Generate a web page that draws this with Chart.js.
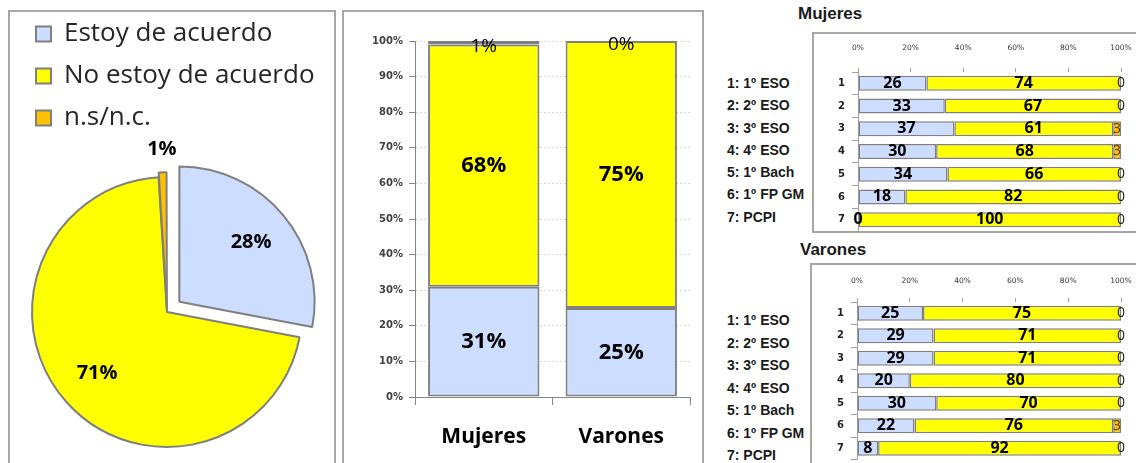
<!DOCTYPE html>
<html>
<head>
<meta charset="utf-8">
<script src="https://cdn.jsdelivr.net/npm/chart.js@4.4.1/dist/chart.umd.min.js"></script>
<style>
  html, body { margin: 0; padding: 0; background: #fff; }
  body { width: 1136px; height: 463px; overflow: hidden; position: relative; }
  .frame { position: absolute; box-sizing: border-box; border: 2px solid #A6A6A6; }
  canvas { position: absolute; }
  .title { position: absolute; font: bold 17px 'Liberation Sans', Arial, sans-serif; color: #1a1a1a; line-height: 20px; white-space: nowrap; }
  .list { position: absolute; font: bold 14px 'Liberation Sans', Arial, sans-serif; color: #1a1a1a; white-space: nowrap; }
</style>
</head>
<body>
<div class="frame" style="left:8px;top:10px;width:328px;height:470px;"></div>
<div class="frame" style="left:342px;top:10px;width:362px;height:470px;"></div>
<div class="title" id="tMuj" style="left:798px;top:4px;"></div>
<div class="frame" style="left:812px;top:32px;width:340px;height:201px;"></div>
<div class="list" id="lMuj" style="left:727px;top:72px;line-height:22.3px;"></div>
<div class="title" id="tVar" style="left:800px;top:240px;"></div>
<div class="frame" style="left:810px;top:263px;width:340px;height:220px;"></div>
<div class="list" id="lVar" style="left:727px;top:309px;line-height:22.5px;"></div>

<canvas id="pie" width="314" height="478" style="left:20px;top:5px;"></canvas>
<canvas id="col" width="358" height="451" style="left:344px;top:12px;"></canvas>
<canvas id="muj" width="322" height="197" style="left:814px;top:36px;"></canvas>
<canvas id="var" width="324" height="198" style="left:812px;top:265px;"></canvas>

<script>
// ---------- DATA ----------
const answerLabels = ['Estoy de acuerdo', 'No estoy de acuerdo', 'n.s/n.c.'];
const pieValues = [28, 71, 1];

const genderLabels = ['Mujeres', 'Varones'];
const colAcuerdo = [31, 25];
const colNoAcuerdo = [68, 75];
const colNsnc = [1, 0];

const levelTicks = ['1', '2', '3', '4', '5', '6', '7'];
const levelNames = ['1: 1º ESO', '2: 2º ESO', '3: 3º ESO', '4: 4º ESO', '5: 1º Bach', '6: 1º FP GM', '7: PCPI'];
const pctTicks = [0, 20, 40, 60, 80, 100];

const mujAcuerdo = [26, 33, 37, 30, 34, 18, 0];
const mujNoAcuerdo = [74, 67, 61, 68, 66, 82, 100];
const mujNsnc = [0, 0, 3, 3, 0, 0, 0];

const varAcuerdo = [25, 29, 29, 20, 30, 22, 8];
const varNoAcuerdo = [75, 71, 71, 80, 70, 76, 92];
const varNsnc = [0, 0, 0, 0, 0, 3, 0];

// ---------- STYLE ----------
const BLUE = '#CCDDFF', YELLOW = '#FFFF00', ORANGE = '#FFC000', EDGE = '#7F7F7F';
const COLORS = [BLUE, YELLOW, ORANGE];
const OS = "'Open Sans'";

document.getElementById('tMuj').textContent = genderLabels[0];
document.getElementById('tVar').textContent = genderLabels[1];
document.getElementById('lMuj').innerHTML = levelNames.map(s => '<div>' + s + '</div>').join('');
document.getElementById('lVar').innerHTML = levelNames.map(s => '<div>' + s + '</div>').join('');

function pieLabelPlugin() {
  return {
    id: 'pieLabels',
    afterDatasetsDraw(chart) {
      const ctx = chart.ctx;
      const ds = chart.data.datasets[0];
      chart.getDatasetMeta(0).data.forEach((arc, i) => {
        const p = arc.getProps(['x', 'y', 'startAngle', 'endAngle', 'outerRadius'], true);
        const mid = (p.startAngle + p.endAngle) / 2;
        const shift = (arc.options.offset || 0) / 4; // Chart.js translates arcs by offset/4
        const v = ds.data[i];
        const d = v < 5 ? p.outerRadius + 25 : p.outerRadius * 0.69;
        const x = p.x + Math.cos(mid) * (shift + d);
        const y = p.y + Math.sin(mid) * (shift + d);
        ctx.save();
        ctx.font = "bold 20px " + OS;
        ctx.fillStyle = '#000';
        ctx.textAlign = 'center';
        ctx.textBaseline = 'middle';
        ctx.fillText(v + '%', x, y);
        ctx.restore();
      });
    }
  };
}

function segLabelPlugin(id, spec) {
  return {
    id,
    afterDatasetsDraw(chart) {
      const ctx = chart.ctx;
      chart.data.datasets.forEach((ds, di) => {
        chart.getDatasetMeta(di).data.forEach((el, i) => {
          const s = spec(di, i, ds);
          if (!s) return;
          const c = el.getCenterPoint();
          ctx.save();
          ctx.font = s.font;
          ctx.fillStyle = s.color;
          ctx.textAlign = 'center';
          ctx.textBaseline = 'middle';
          ctx.fillText(s.text, c.x + (s.dx || 0), c.y + (s.dy || 0));
          ctx.restore();
        });
      });
    }
  };
}

function normalize(a, b, c) {
  const t = a.map((v, i) => a[i] + b[i] + c[i]);
  return [a, b, c].map(arr => arr.map((v, i) => v / t[i] * 100));
}

function hbarChart(canvasId, a, b, c, padR, padB, yWidth, xHeight, xPad) {
  const norm = normalize(a, b, c);
  const raws = [a, b, c];
  return new Chart(document.getElementById(canvasId), {
    type: 'bar',
    data: {
      labels: levelTicks,
      datasets: answerLabels.map((lab, k) => ({
        label: lab, data: norm[k], rawValues: raws[k],
        backgroundColor: COLORS[k], borderColor: EDGE, borderWidth: 1.5, borderSkipped: false,
        barPercentage: 0.66, categoryPercentage: 1
      }))
    },
    options: {
      indexAxis: 'y', responsive: false, animation: false, devicePixelRatio: 1,
      layout: { padding: { top: 0, right: padR, bottom: padB, left: 0 } },
      plugins: { legend: { display: false }, tooltip: { enabled: false } },
      scales: {
        x: {
          position: 'top', stacked: true, min: 0, max: 100,
          afterBuildTicks(s) { s.ticks = pctTicks.map(v => ({ value: v })); },
          ticks: { callback: v => v + '%', font: { family: "'DejaVu Sans'", size: 7.5 }, color: '#333', padding: xPad, maxRotation: 0 },
          grid: { drawOnChartArea: false, drawTicks: true, tickLength: 4, tickColor: '#A0A0A0', color: '#A0A0A0' },
          border: { display: false },
          afterFit(s) { s.height = xHeight; s.paddingLeft = 0; s.paddingRight = 0; }
        },
        y: {
          stacked: true,
          ticks: { font: { family: "'DejaVu Sans'", size: 10, weight: 'bold' }, color: '#222', padding: 7 },
          grid: { drawOnChartArea: false, drawTicks: true, tickLength: 6, tickColor: '#A0A0A0', color: '#A0A0A0', offset: true },
          border: { display: true, color: '#A0A0A0' },
          afterFit(s) { s.width = yWidth; s.paddingTop = 0; s.paddingBottom = 0; }
        }
      }
    },
    plugins: [segLabelPlugin('hLabels' + canvasId, (di, i, ds) => {
      const v = ds.rawValues[i];
      if (di < 2) return { text: String(v), font: "bold 16px " + OS, color: '#000' };
      return { text: String(v), font: "14px " + OS, color: v ? '#5a3a00' : '#222' };
    })]
  });
}

const fontsReady = Promise.all([
  document.fonts.load("26px 'Open Sans'"),
  document.fonts.load("bold 20px 'Open Sans'"),
  document.fonts.load("bold 10px 'DejaVu Sans'"),
  document.fonts.load("7px 'DejaVu Sans'")
]).catch(() => {});

fontsReady.then(() => {
  // ---------- PIE ----------
  new Chart(document.getElementById('pie'), {
    type: 'pie',
    data: {
      labels: answerLabels,
      datasets: [{
        data: pieValues,
        backgroundColor: COLORS,
        borderColor: EDGE,
        borderWidth: 2,
        offset: [64, 0, 10]
      }]
    },
    options: {
      responsive: false, animation: false, devicePixelRatio: 1,
      radius: 135,
      layout: { padding: { left: 0, right: 20, top: 0, bottom: 0 } },
      plugins: {
        tooltip: { enabled: false },
        legend: {
          position: 'top', align: 'start',
          labels: { font: { family: OS, size: 26 }, color: '#262626', boxWidth: 15, boxHeight: 15, padding: 16 }
        }
      }
    },
    plugins: [pieLabelPlugin()]
  });

  // ---------- STACKED COLUMNS ----------
  const colData = [colAcuerdo, colNoAcuerdo, colNsnc];
  new Chart(document.getElementById('col'), {
    type: 'bar',
    data: {
      labels: genderLabels,
      datasets: answerLabels.map((lab, k) => ({
        label: lab, data: colData[k],
        backgroundColor: COLORS[k], borderColor: EDGE, borderWidth: 2, borderSkipped: false,
        barPercentage: 0.81, categoryPercentage: 1
      }))
    },
    options: {
      responsive: false, animation: false, devicePixelRatio: 1,
      layout: { padding: { top: 29, right: 12, bottom: 0, left: 0 } },
      plugins: { legend: { display: false }, tooltip: { enabled: false } },
      scales: {
        x: {
          stacked: true,
          ticks: { font: { family: OS, size: 21, weight: 'bold' }, color: '#000', padding: 19 },
          grid: { drawOnChartArea: false, drawTicks: true, tickLength: 8, color: '#868686', tickColor: '#868686', offset: true },
          border: { display: true, color: '#868686' },
          afterFit(s) { s.height = 66; }
        },
        y: {
          stacked: true, min: 0, max: 100,
          ticks: { stepSize: 10, callback: v => v + '%', font: { family: "'DejaVu Sans'", size: 10, weight: 'bold' }, color: '#404040', padding: 6 },
          grid: { color: '#D9D9D9', tickColor: '#868686', tickLength: 6 },
          border: { display: true, color: '#868686', dash: [2, 2] },
          afterFit(s) { s.width = 71; }
        }
      }
    },
    plugins: [segLabelPlugin('colLabels', (di, i, ds) => {
      const v = ds.data[i];
      if (di < 2) return { text: v + '%', font: "bold 22px " + OS, color: '#000' };
      return { text: v + '%', font: "19px " + OS, color: '#000', dy: 4 };
    })]
  });

  // ---------- HORIZONTAL STACKED BARS ----------
  hbarChart('muj', mujAcuerdo, mujNoAcuerdo, mujNsnc, 15, 2, 44, 36, 15);
  hbarChart('var', varAcuerdo, varNoAcuerdo, varNsnc, 15, 3.5, 45, 37, 12);
});
</script>
</body>
</html>
